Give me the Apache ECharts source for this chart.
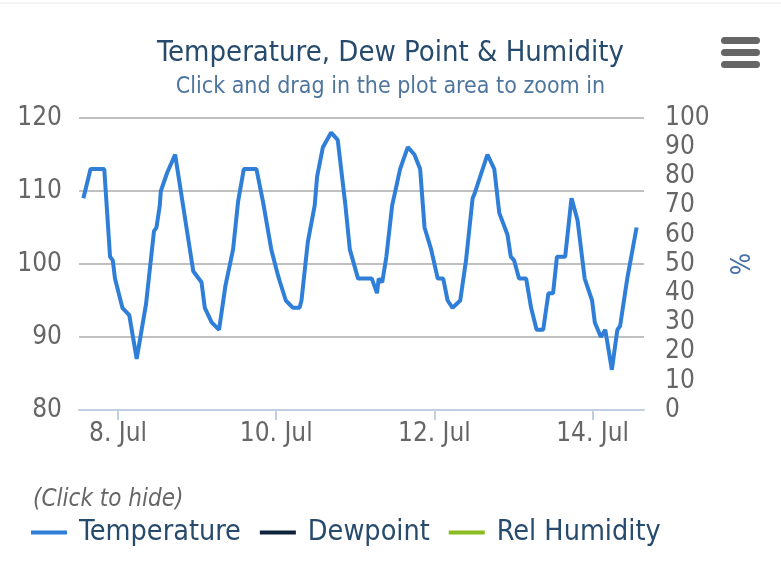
<!DOCTYPE html>
<html>
<head>
<meta charset="utf-8">
<script src="https://cdn.jsdelivr.net/npm/echarts@6/dist/echarts.min.js"></script>
<style>
  html, body { margin: 0; padding: 0; background: #fff; }
  #main { width: 781px; height: 567px; }
</style>
</head>
<body>
<div id="main"></div>
<script>
// readings (local time, 2015)
const times = [
  '2015-07-07 13:30', '2015-07-07 15:40', '2015-07-07 19:50', '2015-07-07 21:35', '2015-07-07 22:25',
  '2015-07-07 23:05', '2015-07-08 01:20', '2015-07-08 03:25', '2015-07-08 05:40', '2015-07-08 08:30',
  '2015-07-08 10:55', '2015-07-08 11:40', '2015-07-08 12:40', '2015-07-08 13:00', '2015-07-08 14:55',
  '2015-07-08 17:20', '2015-07-08 22:50', '2015-07-09 01:20', '2015-07-09 02:20', '2015-07-09 04:25',
  '2015-07-09 06:40', '2015-07-09 08:35', '2015-07-09 10:55', '2015-07-09 12:25', '2015-07-09 14:10',
  '2015-07-09 18:00', '2015-07-09 20:00', '2015-07-09 22:30', '2015-07-10 00:30', '2015-07-10 01:10',
  '2015-07-10 02:55', '2015-07-10 05:05', '2015-07-10 07:05', '2015-07-10 07:40', '2015-07-10 09:35',
  '2015-07-10 11:40', '2015-07-10 12:25', '2015-07-10 14:10', '2015-07-10 16:40', '2015-07-10 18:40',
  '2015-07-10 21:00', '2015-07-10 22:20', '2015-07-11 00:50', '2015-07-11 05:00', '2015-07-11 06:35',
  '2015-07-11 07:05', '2015-07-11 08:10', '2015-07-11 09:25', '2015-07-11 11:10', '2015-07-11 13:35',
  '2015-07-11 15:55', '2015-07-11 17:55', '2015-07-11 19:40', '2015-07-11 21:00', '2015-07-11 23:00',
  '2015-07-12 01:00', '2015-07-12 02:40', '2015-07-12 04:00', '2015-07-12 05:30', '2015-07-12 07:50',
  '2015-07-12 09:35', '2015-07-12 11:35', '2015-07-12 12:05', '2015-07-12 16:05', '2015-07-12 18:10',
  '2015-07-12 19:40', '2015-07-12 22:10', '2015-07-12 23:10', '2015-07-13 00:10', '2015-07-13 01:40',
  '2015-07-13 03:50', '2015-07-13 05:20', '2015-07-13 07:00', '2015-07-13 09:00', '2015-07-13 10:35',
  '2015-07-13 12:00', '2015-07-13 13:10', '2015-07-13 15:40', '2015-07-13 17:35', '2015-07-13 17:55',
  '2015-07-13 19:25', '2015-07-13 21:35', '2015-07-13 23:50', '2015-07-14 00:40', '2015-07-14 02:30',
  '2015-07-14 03:50', '2015-07-14 05:50', '2015-07-14 07:30', '2015-07-14 08:20', '2015-07-14 10:30',
  '2015-07-14 13:20'
];
const temperature = [
  109, 113, 113, 101, 100.5,
  98, 94, 93, 87, 94.5,
  104.5, 105, 108, 110, 112.5,
  115, 99, 97.5, 94, 92,
  91, 97, 102, 108.5, 113,
  113, 108.5, 102, 98.5, 97.5,
  95, 94, 94, 95, 103,
  108, 112, 116, 118, 117,
  108, 102, 98, 98, 96,
  98, 97.5, 101, 108, 113,
  116, 115, 113, 105, 102,
  98, 98, 95, 94, 95,
  100.5, 109, 109.5, 115, 113,
  107, 104, 101, 100.5, 98,
  98, 94, 91, 91, 96,
  96, 101, 101, 109, 108.5,
  106, 98, 95, 92, 90,
  91, 85.5, 91, 91.5, 98,
  105
];
const dewpoint = [];
const relHumidity = [];

const dateTicks = ['2015-07-08', '2015-07-10', '2015-07-12', '2015-07-14'];
const tempTicks = [80, 90, 100, 110, 120];
const months = ['Jan','Feb','Mar','Apr','May','Jun','Jul','Aug','Sep','Oct','Nov','Dec'];

function parseTime(s) {
  const [d, t] = s.split(' ');
  const p = d.split('-').map(Number);
  const q = (t || '00:00').split(':').map(Number);
  return new Date(p[0], p[1] - 1, p[2], q[0], q[1]).getTime();
}

const FONT = '"DejaVu Sans Condensed", "DejaVu Sans", sans-serif';

let myChart = echarts.init(document.getElementById('main'));
let option = {
  animation: false,
  backgroundColor: '#fff',
  textStyle: { fontFamily: FONT },
  title: {
    text: 'Temperature, Dew Point & Humidity',
    subtext: 'Click and drag in the plot area to zoom in',
    left: 'center',
    top: 34,
    itemGap: 8,
    textStyle: { color: '#274b6d', fontSize: 29, fontWeight: 'normal', fontFamily: FONT },
    subtextStyle: { color: '#4d759e', fontSize: 23, fontFamily: FONT }
  },
  legend: {
    left: 31,
    top: 518,
    padding: 0,
    icon: 'rect',
    itemWidth: 36,
    itemHeight: 4,
    itemGap: 19,
    data: ['Temperature', 'Dewpoint', 'Rel Humidity'],
    textStyle: { color: '#274b6d', fontSize: 28.5, fontFamily: FONT, padding: [0, 0, 0, 7] }
  },
  graphic: [
    { type: 'line', shape: { x1: 0, y1: 3, x2: 781, y2: 3 }, style: { stroke: '#e8e8e8', lineWidth: 1 } },
    { type: 'text', left: 33, top: 488, style: { text: '(Click to hide)', fill: '#666', font: 'italic 24px ' + FONT } },
    { type: 'rect', shape: { x: 721, y: 37, width: 39, height: 7, r: 3.5 }, style: { fill: '#666' } },
    { type: 'rect', shape: { x: 721, y: 49, width: 39, height: 7, r: 3.5 }, style: { fill: '#666' } },
    { type: 'rect', shape: { x: 721, y: 61, width: 39, height: 7, r: 3.5 }, style: { fill: '#666' } }
  ],
  grid: { left: 79, right: 137, top: 118, bottom: 157 },
  xAxis: {
    type: 'value',
    min: parseTime('2015-07-07 12:10'),
    max: parseTime('2015-07-14 15:35'),
    axisLine: { show: true, lineStyle: { color: '#C0D0E0', width: 2 } },
    axisTick: { show: true, length: 10, lineStyle: { color: '#C0D0E0', width: 2 },
      customValues: dateTicks.map(parseTime) },
    axisLabel: {
      color: '#666', fontSize: 26, margin: 11, fontFamily: FONT,
      customValues: dateTicks.map(parseTime),
      formatter: function (v) {
        const d = new Date(v);
        return d.getDate() + '. ' + months[d.getMonth()];
      }
    },
    splitLine: { show: false }
  },
  yAxis: [
    {
      type: 'value',
      min: tempTicks[0],
      max: tempTicks[tempTicks.length - 1],
      interval: 10,
      axisLine: { show: false },
      axisTick: { show: false },
      axisLabel: { color: '#666', fontSize: 26, margin: 17, fontFamily: FONT },
      splitLine: { show: true, lineStyle: { color: '#C0C0C0', width: 2 } }
    },
    {
      type: 'value',
      min: 0,
      max: 100,
      interval: 10,
      name: '%',
      nameLocation: 'middle',
      nameRotate: -90,
      nameGap: 80,
      nameTextStyle: { color: '#4572a7', fontSize: 26, fontFamily: FONT },
      axisLine: { show: false },
      axisTick: { show: false },
      axisLabel: { color: '#666', fontSize: 26, margin: 21, fontFamily: FONT },
      splitLine: { show: false }
    }
  ],
  series: [
    {
      name: 'Temperature',
      type: 'line',
      yAxisIndex: 0,
      showSymbol: false,
      color: '#2f7ed8',
      lineStyle: { width: 4, color: '#2f7ed8' },
      data: times.map((t, i) => [parseTime(t), temperature[i]])
    },
    {
      name: 'Dewpoint',
      type: 'line',
      yAxisIndex: 0,
      showSymbol: false,
      color: '#0d233a',
      lineStyle: { width: 4 },
      data: dewpoint
    },
    {
      name: 'Rel Humidity',
      type: 'line',
      yAxisIndex: 1,
      showSymbol: false,
      color: '#8bbc21',
      lineStyle: { width: 4 },
      data: relHumidity
    }
  ]
};
myChart.setOption(option);
</script>
</body>
</html>
